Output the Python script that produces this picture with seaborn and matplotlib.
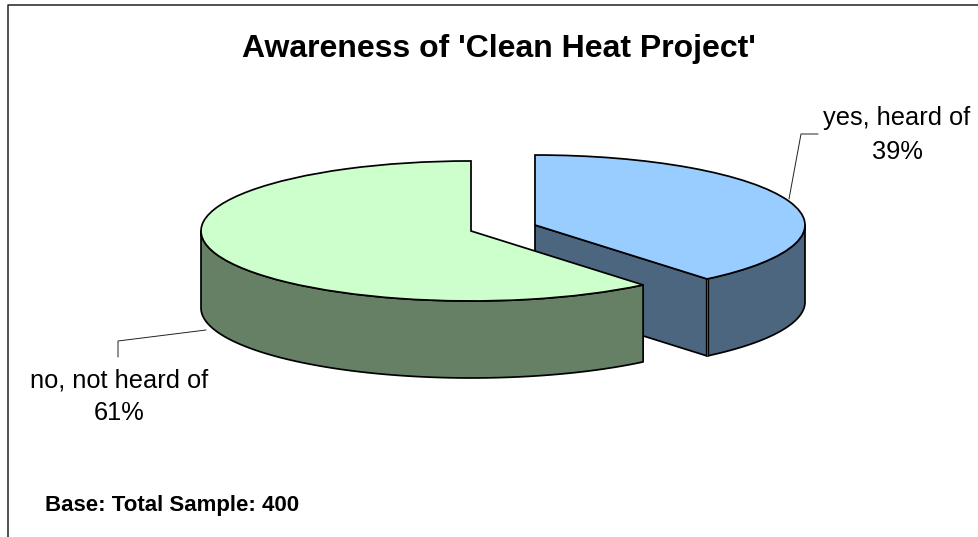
import numpy as np
import matplotlib
matplotlib.use('Agg')
import matplotlib.pyplot as plt
from matplotlib.colors import to_rgb
from matplotlib.lines import Line2D
import seaborn as sns

# Data
labels = ['yes, heard of', 'no, not heard of']
values = [39, 61]
colors = ['#99CCFF', '#CCFFCC']
title = "Awareness of 'Clean Heat Project'"
base_note = 'Base: Total Sample: 400'

W, H = 979, 537
SQUASH = 70 / 270   # y scale of the tilted pie
DEPTH = 77 / SQUASH
LW = 1.25

sns.set_theme(style='white')
plt.rcParams['font.family'] = ['Liberation Sans', 'DejaVu Sans']


def px(x, y):
    return x / W, 1 - y / H


def arc(w, a0, a1):
    t = np.radians(np.linspace(a0, a1, 120))
    return w.center[0] + w.r * np.cos(t), w.center[1] + w.r * np.sin(t)


def wall(ax, xs, ys, color, z):
    ax.fill(np.r_[xs, xs[::-1]], np.r_[ys, ys[::-1] - DEPTH], facecolor=color,
            edgecolor='black', linewidth=LW, joinstyle='round', zorder=z)


fig = plt.figure(figsize=(W / 100, H / 100), dpi=100)
ax = fig.add_axes([0, 0, 1, 1])
wedges, _ = ax.pie(values, colors=colors, explode=[34, 34], radius=270,
                   center=(503, (H - 228) / SQUASH), startangle=90, counterclock=False,
                   wedgeprops={'edgecolor': 'black', 'linewidth': LW})
ax.set_aspect('auto')
ax.set_xlim(0, W)
ax.set_ylim(0, H / SQUASH)
ax.axis('off')

blue, green = wedges
shade = [tuple(c * 0.5 for c in to_rgb(col)) for col in colors]

# blue slice: cut face and rim
cut = np.radians(blue.theta1)
tip_x = blue.center[0] + blue.r * np.cos(cut)
tip_y = blue.center[1] + blue.r * np.sin(cut)
wall(ax, np.array([blue.center[0], tip_x]), np.array([blue.center[1], tip_y]), shade[0], 1)
wall(ax, *arc(blue, blue.theta1, 0), shade[0], 1)
# the two blue faces meet in a double line
ax.plot([tip_x, tip_x], [tip_y, tip_y - DEPTH], color='black', lw=2.4, zorder=1.1, solid_capstyle='butt')
ax.plot([tip_x, tip_x], [tip_y, tip_y - DEPTH], color=shade[0], lw=0.6, zorder=1.2, solid_capstyle='butt')
blue.set_zorder(2)

# green slice: only the front rim shows
wall(ax, *arc(green, -180, green.theta2), shade[1], 3)
green.set_zorder(4)

# leader lines
fig.add_artist(Line2D([px(818, 0)[0], px(801, 0)[0], px(789, 0)[0]],
                      [px(0, 134)[1], px(0, 134)[1], px(0, 199)[1]],
                      color='#222222', lw=0.7))
fig.add_artist(Line2D([px(118, 0)[0], px(118, 0)[0], px(206, 0)[0]],
                      [px(0, 357)[1], px(0, 341)[1], px(0, 330)[1]],
                      color='#222222', lw=0.7))

# chart border, top and left only
fig.add_artist(Line2D([1, px(8, 0)[0], px(8, 0)[0]],
                      [px(0, 4.5)[1], px(0, 4.5)[1], 0], color='#222222', lw=1.1))

fig.text(*px(499, 57), title, ha='center', va='baseline', fontsize=23, fontweight='bold', color='black')
fig.text(*px(897, 159), f'{labels[0]}\n{values[0]}%', ha='center', va='baseline', fontsize=18.3,
         linespacing=1.5, color='black')
fig.text(*px(119, 420), f'{labels[1]}\n{values[1]}%', ha='center', va='baseline', fontsize=18.3,
         linespacing=1.44, color='black')
fig.text(*px(45, 511), base_note, ha='left', va='baseline', fontsize=16, fontweight='bold', color='black')

fig.savefig('out.png', dpi=100)
